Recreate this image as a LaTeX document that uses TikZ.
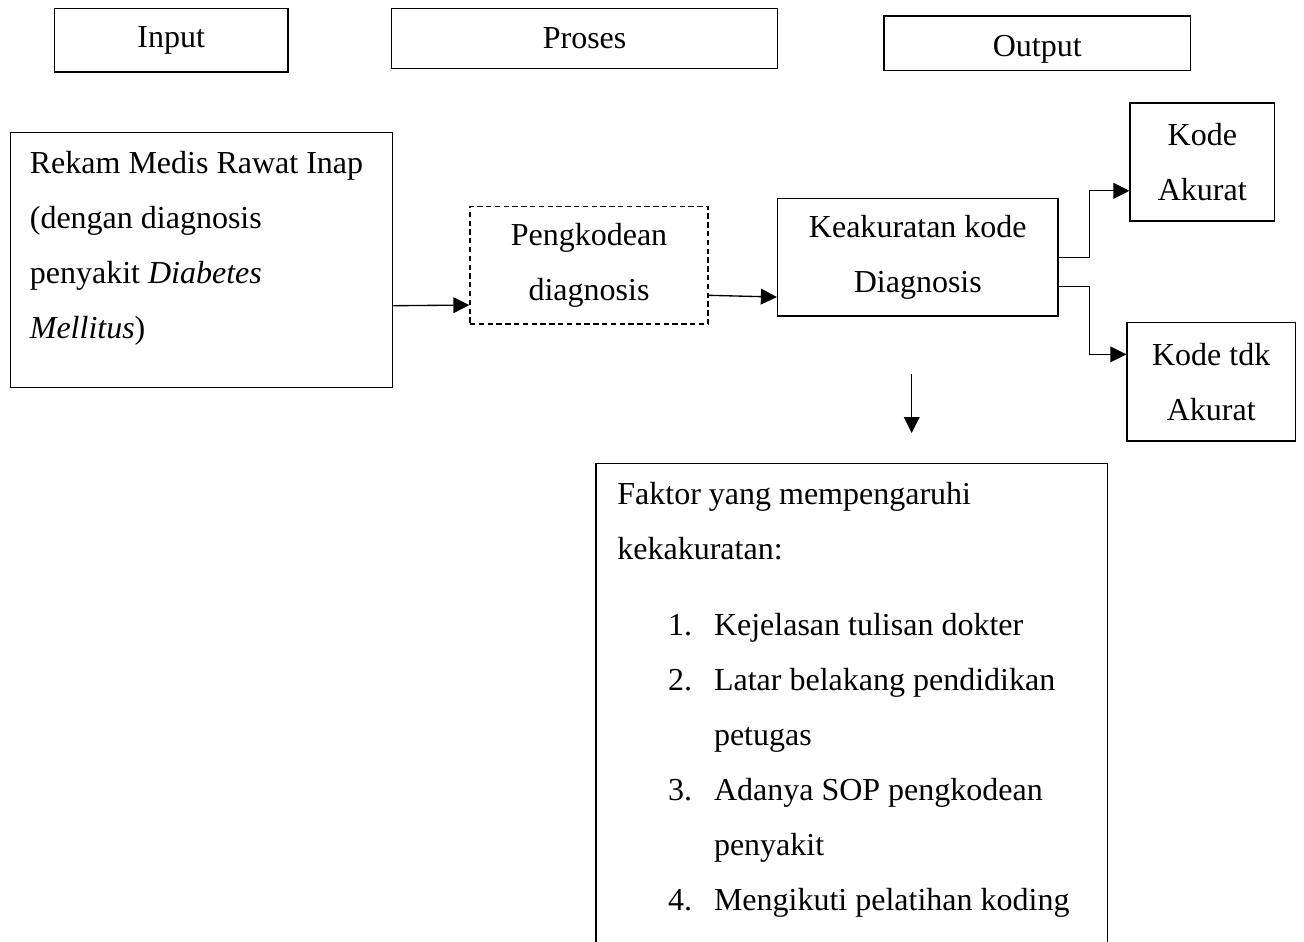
\documentclass[tikz,border=0pt]{standalone}
\usepackage{fontspec}
\setmainfont{Liberation Serif}
\usepackage{tikz}
\usetikzlibrary{arrows.meta}
\tikzset{box/.style={draw,rectangle,inner sep=0pt,align=center},
         textbox/.style={rectangle,anchor=north west},
         flow/.style={-{Triangle[length=6pt,width=5.9pt]}},}

\begin{document}
\begin{tikzpicture}[x=0.375pt,y=-0.375pt,line width=0.5pt,font=\fontsize{12pt}{20.6pt}\selectfont]
       \useasboundingbox (0,0) rectangle (1304,941);

       \node[box,minimum width=87.6pt,minimum height=23.9pt] (input) at (171.2,40.2) {Input};
       \node[box,minimum width=144.7pt,minimum height=22.65pt] (proses) at (584.6,38.5) {Proses};
       \node[box,minimum width=115pt,minimum height=20.5pt,text height=9.75pt,text depth=0pt] (output) at (1037.3,43.35) {Output};

       \node[textbox,draw,inner xsep=7.2pt,inner ysep=7pt] (rekam) at (10,131.7)
            {\parbox[t][81.6pt][t]{128.9pt}{\raggedright Rekam Medis Rawat Inap\\ (dengan diagnosis\\ penyakit \textit{Diabetes}\\ \textit{Mellitus})}};
       \node[box,dashed,dash pattern=on 2pt off 1.3pt,minimum width=89.25pt,minimum height=44pt] (pengkodean) at (589,265.3) {Pengkodean\\ diagnosis};
       \node[box,minimum width=105.2pt,minimum height=44pt] (keakuratan) at (917.8,257.3) {Keakuratan kode\\ Diagnosis};
       \node[box,minimum width=54.2pt,minimum height=44.25pt] (akurat) at (1202.3,162) {Kode\\ Akurat};
       \node[box,minimum width=63.15pt,minimum height=44.4pt] (tdkakurat) at (1211.2,381.8) {Kode tdk\\ Akurat};

       \node[textbox,inner xsep=7.76pt,inner ysep=6.75pt] (faktor) at (596,463.3)
            {\parbox[t][170pt][t]{175.7pt}{\raggedright Faktor yang mempengaruhi\\ kekakuratan:\\[8.1pt]
             \hspace*{19pt}\makebox[17.25pt][l]{1.}Kejelasan tulisan dokter\\
             \hspace*{19pt}\makebox[17.25pt][l]{2.}Latar belakang pendidikan\\
             \hspace*{36.25pt}petugas\\
             \hspace*{19pt}\makebox[17.25pt][l]{3.}Adanya SOP pengkodean\\
             \hspace*{36.25pt}penyakit\\
             \hspace*{19pt}\makebox[17.25pt][l]{4.}Mengikuti pelatihan koding}};
       \draw (faktor.south west) |- (faktor.north east) -- (faktor.south east);

       \coordinate (downtop) at (911.7,374);
       \coordinate (downend) at (911.7,433);

       \draw[flow] ([yshift=-17.2pt]rekam.east) -- ([yshift=-14.9pt]pengkodean.west);
       \draw[flow] ([yshift=-11.25pt]pengkodean.east) -- ([yshift=-14.9pt]keakuratan.west);
       \draw[flow] (keakuratan.east) -- ++(31,0) |- ([yshift=-10.8pt]akurat.west);
       \draw[flow] ([yshift=-11pt]keakuratan.east) -- ++(31,0) |- ([yshift=10.3pt]tdkakurat.west);
       \draw[flow] (downtop) -- (downend);
\end{tikzpicture}
\end{document}
